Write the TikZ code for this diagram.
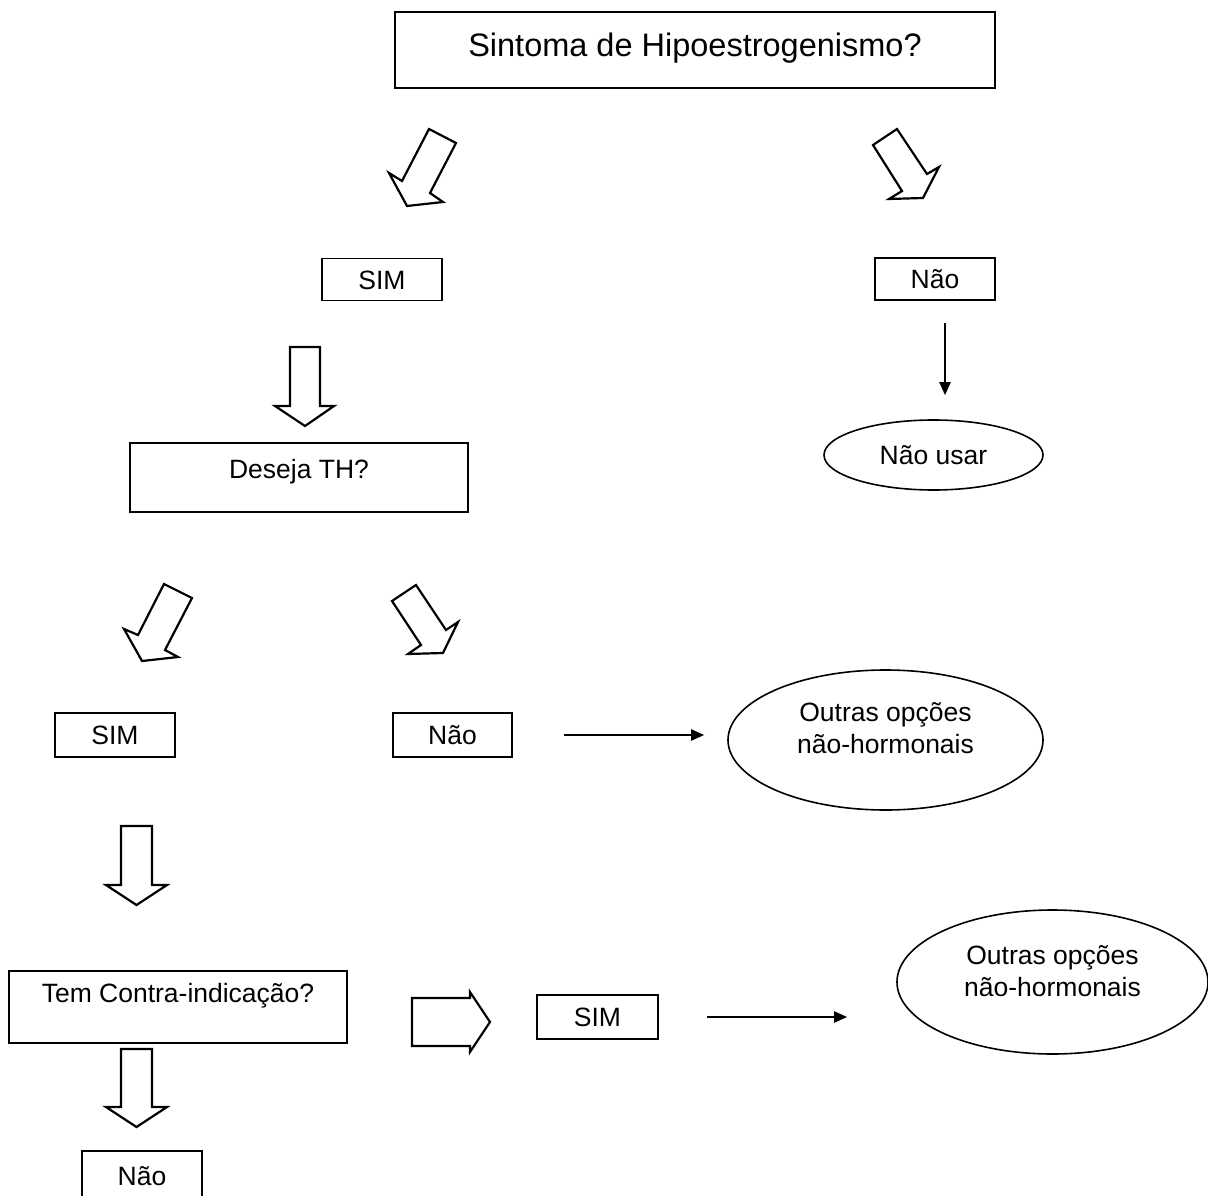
\documentclass[tikz,border=0pt]{standalone}
\usepackage{fontspec}
\setmainfont{Liberation Sans}
\usetikzlibrary{arrows.meta,shapes.geometric}
\begin{document}
\begin{tikzpicture}[x=1pt,y=-1pt,
  box/.style={draw,line width=1.6pt,rectangle,inner sep=0pt},
  oval/.style={draw,line width=1.6pt,ellipse,inner sep=0pt},
  lbl/.style={inner sep=0pt,font=\fontsize{26.5}{31.5}\selectfont,anchor=base},
  barrow/.style={draw,line width=2.2pt,line join=miter,fill=white},
  link/.style={line width=2pt,-{Triangle[length=13pt,width=11pt]}}
]
\useasboundingbox (0,0) rectangle (1208,1196);
\fill[white] (0,0) rectangle (1208,1196);

% boxes and ellipses
\node[box,minimum width=600pt,minimum height=76pt] (q1) at (695,50) {};
\node[box,minimum width=120pt,minimum height=42pt] (simT) at (382,279.5) {};
\node[box,minimum width=120pt,minimum height=42pt] (naoT) at (935,279) {};
\node[oval,minimum width=219pt,minimum height=70pt] (naoU) at (933.5,455) {};
\node[box,minimum width=338pt,minimum height=69pt] (q2) at (299,477.5) {};
\node[box,minimum width=120pt,minimum height=44pt] (simM) at (115,735) {};
\node[box,minimum width=119pt,minimum height=44pt] (naoM) at (452.5,735) {};
\node[oval,minimum width=315pt,minimum height=140pt] (ell1) at (885.5,740) {};
\node[box,minimum width=338pt,minimum height=72pt] (q3) at (178,1007) {};
\node[box,minimum width=121pt,minimum height=44pt] (simL) at (597.5,1017) {};
\node[oval,minimum width=311pt,minimum height=144pt] (ell2) at (1052.5,982) {};
\node[box,minimum width=120pt,minimum height=48pt] (naoB) at (142,1175) {};

% texts
\node[lbl,font=\fontsize{32.5}{38}\selectfont] (tq1) at (695,57) {Sintoma de Hipoestrogenismo?};
\node[lbl] (tsimT) at (382,289) {SIM};
\node[lbl] (tnaoT) at (935,288.5) {Não};
\node[lbl] (tnaoU) at (933.5,464) {Não usar};
\node[lbl] (tq2) at (299,478) {Deseja TH?};
\node[lbl] (tsimM) at (115,744.5) {SIM};
\node[lbl] (tnaoM) at (452.5,744.5) {Não};
\node[lbl,anchor=center,align=center] (tell1) at (885.5,728) {Outras opções\\não-hormonais};
\node[lbl] (tq3) at (178,1002) {Tem Contra-indicação?};
\node[lbl] (tsimL) at (597.5,1026.5) {SIM};
\node[lbl,anchor=center,align=center] (tell2) at (1052.5,971) {Outras opções\\não-hormonais};
\node[lbl] (tnaoB) at (142,1185) {Não};

% block arrows
\draw[barrow] (429,129) -- (456,143) -- (430,193) -- (443,202) -- (407,206) -- (389,173) -- (402,181) -- cycle;
\draw[barrow] (897,129) -- (873,145) -- (902,191) -- (889,199) -- (923,198) -- (939,167) -- (927,174) -- cycle;
\draw[barrow] (290,347) -- (320,347) -- (320,406) -- (334,406) -- (305,426) -- (275,406) -- (290,406) -- cycle;
\draw[barrow] (164,584) -- (192,598) -- (165,650) -- (178,657) -- (142,661) -- (124,629) -- (138,635) -- cycle;
\draw[barrow] (416,585) -- (392,601) -- (421,645) -- (408,654) -- (443,653) -- (458,622) -- (446,630) -- cycle;
\draw[barrow] (121,826) -- (152,826) -- (152,885) -- (167,885) -- (136.5,905) -- (106,885) -- (121,885) -- cycle;
\draw[barrow] (412,998) -- (470,998) -- (470,992) -- (490,1022) -- (470,1052) -- (470,1046) -- (412,1046) -- cycle;
\draw[barrow] (121,1049) -- (152,1049) -- (152,1107) -- (167,1107) -- (136.5,1127) -- (106,1107) -- (121,1107) -- cycle;

% thin arrows
\draw[link,shorten <=22pt,shorten >=24pt] ([xshift=10pt]naoT.south) -- ([xshift=10pt]naoT.south |- naoU.north);
\draw[link,shorten <=51pt,shorten >=23pt] (naoM.east) -- (naoM.east -| ell1.west);
\draw[link,shorten <=48pt,shorten >=49pt] (simL.east) -- (simL.east -| ell2.west);
\end{tikzpicture}
\end{document}
